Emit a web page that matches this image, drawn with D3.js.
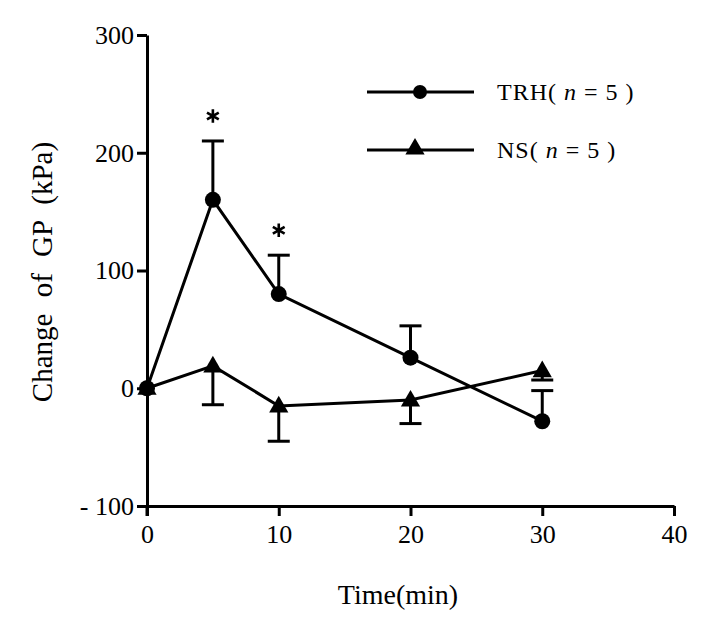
<!DOCTYPE html>
<html><head><meta charset="utf-8">
<script src="https://cdn.jsdelivr.net/npm/d3@7"></script>
<style>body{margin:0;background:#fff}svg{display:block}</style>
</head><body>
<script>
const times = [0, 5, 10, 20, 30];
const trhMean = [0, 160, 80, 26, -28];
const trhSE = [0, 50, 33, 27, 26];
const nsMean = [0, 19, -15, -10, 15];
const nsSE = [0, 33, 30, 20, 8];
const xTicks = [0, 10, 20, 30, 40];
const yTicks = [-100, 0, 100, 200, 300];
const sigTimes = [5, 10];

const W = 703, H = 627;
const svg = d3.select("body").append("svg").attr("width", W).attr("height", H);
const font = "'Liberation Serif','Times New Roman',serif";
const x = d3.scaleLinear().domain([0, 40]).range([147, 674]);
const y = d3.scaleLinear().domain([-100, 300]).range([506, 35]);

// axes
const xAxis = svg.append("g").attr("transform", `translate(0,${y(-100)})`)
  .call(d3.axisBottom(x).tickValues(xTicks).tickSize(10).tickPadding(9).tickSizeOuter(0));
const yAxis = svg.append("g").attr("transform", `translate(${x(0)},0)`)
  .call(d3.axisLeft(y).tickValues(yTicks).tickSize(10).tickPadding(3).tickSizeOuter(0)
    .tickFormat(d => d < 0 ? "- " + Math.abs(d) : d));
[xAxis, yAxis].forEach(g => {
  g.attr("font-family", font).attr("font-size", 26);
  g.selectAll("path.domain").attr("stroke", "#000").attr("stroke-width", 3);
  g.selectAll(".tick line").attr("stroke", "#000").attr("stroke-width", 3);
  g.selectAll("text").style("font-family", font).style("font-size", "26px").attr("fill", "#000");
});
// extend y-axis slightly below x-axis
svg.append("line").attr("x1", x(0)).attr("x2", x(0)).attr("y1", y(-100)).attr("y2", y(-100) + 10)
  .attr("stroke", "#000").attr("stroke-width", 3);

// axis titles
svg.append("text").attr("x", 398).attr("y", 604).attr("text-anchor", "middle")
  .style("font-family", font).style("font-size", "28px").text("Time(min)");
svg.append("text").attr("transform", "translate(52,272) rotate(-90)").attr("text-anchor", "middle")
  .style("font-family", font).style("font-size", "29px").attr("word-spacing", 9).text("Change of GP (kPa)");

const line = d3.line().x(d => x(d.t)).y(d => y(d.v));
const trh = times.map((t, i) => ({t, v: trhMean[i], se: trhSE[i]}));
const ns = times.map((t, i) => ({t, v: nsMean[i], se: nsSE[i]}));

// error bars: TRH up, NS down
function errBars(data, dir) {
  data.filter(d => d.se > 0).forEach(d => {
    const y0 = y(d.v), y1 = y(d.v + dir * d.se);
    svg.append("line").attr("x1", x(d.t)).attr("x2", x(d.t)).attr("y1", y0).attr("y2", y1)
      .attr("stroke", "#000").attr("stroke-width", 3);
    svg.append("line").attr("x1", x(d.t) - 11).attr("x2", x(d.t) + 11).attr("y1", y1).attr("y2", y1)
      .attr("stroke", "#000").attr("stroke-width", 3);
  });
}
errBars(trh, 1);
errBars(ns, -1);

svg.append("path").datum(trh).attr("d", line).attr("fill", "none").attr("stroke", "#000").attr("stroke-width", 3);
svg.append("path").datum(ns).attr("d", line).attr("fill", "none").attr("stroke", "#000").attr("stroke-width", 3);

const tri = d3.symbol().type(d3.symbolTriangle).size(160);
svg.selectAll(".tri").data(ns).enter().append("path")
  .attr("transform", d => `translate(${x(d.t)},${y(d.v) + 1})`).attr("d", tri).attr("fill", "#000");
svg.selectAll(".dot").data(trh).enter().append("circle")
  .attr("cx", d => x(d.t)).attr("cy", d => y(d.v)).attr("r", 8).attr("fill", "#000");

// significance asterisks
const ast = d3.symbol().type(d3.symbolAsterisk).size(130);
sigTimes.forEach(t => {
  const d = trh.find(e => e.t === t);
  svg.append("path").attr("transform", `translate(${x(t)},${y(d.v + d.se) - 25})`)
    .attr("d", ast).attr("fill", "none").attr("stroke", "#000").attr("stroke-width", 2.6);
});

// legend
const legend = [
  {label: "TRH", y: 92, sym: "circle"},
  {label: "NS", y: 150, sym: "tri"}
];
legend.forEach(l => {
  svg.append("line").attr("x1", 367).attr("x2", 474).attr("y1", l.y).attr("y2", l.y)
    .attr("stroke", "#000").attr("stroke-width", 3);
  if (l.sym === "circle") {
    svg.append("circle").attr("cx", 420).attr("cy", l.y).attr("r", 7).attr("fill", "#000");
  } else {
    svg.append("path").attr("transform", `translate(415,${l.y - 1})`).attr("d", tri).attr("fill", "#000");
  }
  const t = svg.append("text").attr("x", 497).attr("y", l.y + 8)
    .style("font-family", font).style("font-size", "24px").attr("letter-spacing", 1);
  t.append("tspan").text(l.label + "( ");
  t.append("tspan").attr("font-style", "italic").text("n");
  t.append("tspan").text(" = 5 )");
});
</script>
</body></html>
